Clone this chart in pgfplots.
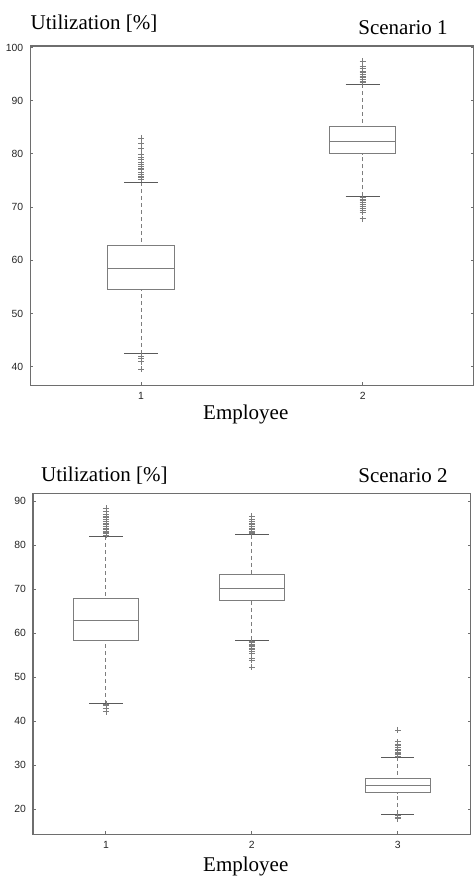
\documentclass[border=0pt]{standalone}
\usepackage{pgfplots}
\pgfplotsset{compat=1.18}
\usepgfplotslibrary{statistics}
\usepackage{fontspec}
\setmainfont{Liberation Serif}
\newfontfamily\sansf{Liberation Sans}
\definecolor{axgray}{RGB}{110,110,110}
\definecolor{boxgray}{RGB}{125,125,125}
\definecolor{capgray}{RGB}{90,90,90}
\pgfplotsset{
  myboxstyle/.style={
    scale only axis,
    axis line style={axgray,line width=0.6pt},
    tick style={axgray,line width=0.5pt},
    major tick length=1.4pt,
    tick align=inside,
    ytick pos=both,
    xtick pos=bottom,
    tick label style={font=\sansf\fontsize{5.2}{6}\selectfont,text=black!85},
    /pgf/number format/assume math mode=true,
    xtick={1,2,3},
    boxplot/draw direction=y,
    boxplot/every box/.style={draw=boxgray,line width=0.5pt},
    boxplot/every median/.style={draw=boxgray,line width=0.5pt},
    boxplot/draw/lower whisker/.code={%
      \draw[boxgray,line width=0.5pt,dash pattern=on 2pt off 1.5pt]
        (boxplot box cs:\pgfplotsboxplotvalue{lower whisker},0.5) --
        (boxplot box cs:\pgfplotsboxplotvalue{lower quartile},0.5);
      \draw[capgray,line width=0.5pt]
        (boxplot whisker cs:\pgfplotsboxplotvalue{lower whisker},0) --
        (boxplot whisker cs:\pgfplotsboxplotvalue{lower whisker},1);
    },
    boxplot/draw/upper whisker/.code={%
      \draw[boxgray,line width=0.5pt,dash pattern=on 2pt off 1.5pt]
        (boxplot box cs:\pgfplotsboxplotvalue{upper whisker},0.5) --
        (boxplot box cs:\pgfplotsboxplotvalue{upper quartile},0.5);
      \draw[capgray,line width=0.5pt]
        (boxplot whisker cs:\pgfplotsboxplotvalue{upper whisker},0) --
        (boxplot whisker cs:\pgfplotsboxplotvalue{upper whisker},1);
    },
  },
  outl/.style={only marks,mark=+,mark size=1.5pt,
    mark options={boxgray,line width=0.4pt},draw=boxgray},
}
\begin{document}
\begin{tikzpicture}
\path[use as bounding box] (0pt,0pt) rectangle (237pt,438pt);
% ---------- Scenario 1 ----------
\begin{axis}[myboxstyle,
  at={(15.15pt,245.35pt)},anchor=south west,
  width=221.6pt,height=169.65pt,
  xmin=0.5,xmax=2.5,ymin=36.5,ymax=100.3,
  ytick={40,50,60,70,80,90,100},
  boxplot/box extend=0.3,
  boxplot/whisker extend=0.154,
]
\addplot+[outl,boxplot prepared={draw position=1,
  lower whisker=42.4,lower quartile=54.6,median=58.55,
  upper quartile=62.7,upper whisker=74.7}]
  table[row sep=\\,y index=0]{
  75.2\\75.5\\75.8\\76.1\\76.5\\77.0\\77.3\\77.6\\78.0\\78.5\\79.0\\79.3\\80.0\\81.0\\82.0\\83.0\\
  42.0\\41.6\\40.9\\39.5\\};
\addplot+[outl,boxplot prepared={draw position=2,
  lower whisker=72.0,lower quartile=80.0,median=82.4,
  upper quartile=85.2,upper whisker=93.1}]
  table[row sep=\\,y index=0]{
  93.4\\93.7\\94.0\\94.3\\94.6\\95.0\\95.3\\95.6\\96.0\\96.5\\97.4\\
  71.8\\71.5\\71.2\\70.9\\70.6\\70.2\\69.8\\69.4\\69.0\\67.8\\};
\end{axis}
\node[anchor=base west,inner sep=0pt,font=\fontsize{10.5}{12}\selectfont] at (15.15pt,423pt) {Utilization [\%]};
\node[anchor=base west,inner sep=0pt,font=\fontsize{10.5}{12}\selectfont] at (179pt,420.9pt) {Scenario 1};
\node[anchor=base,inner sep=0pt,font=\fontsize{10.5}{12}\selectfont] at (122.9pt,228pt) {Employee};
% ---------- Scenario 2 ----------
\begin{axis}[myboxstyle,
  at={(16.5pt,20.85pt)},anchor=south west,
  width=218.85pt,height=170.5pt,
  xmin=0.5,xmax=3.5,ymin=14.3,ymax=91.75,
  ytick={20,30,40,50,60,70,80,90},
  boxplot/box extend=0.447,
  boxplot/whisker extend=0.229,
]
\addplot+[outl,boxplot prepared={draw position=1,
  lower whisker=44.0,lower quartile=58.3,median=62.95,
  upper quartile=67.95,upper whisker=82.05}]
  table[row sep=\\,y index=0]{
  82.3\\82.6\\82.9\\83.2\\83.5\\83.8\\84.2\\84.6\\85.0\\85.4\\85.8\\86.2\\86.6\\87.0\\87.6\\88.4\\
  43.8\\43.5\\42.8\\42.1\\};
\addplot+[outl,boxplot prepared={draw position=2,
  lower whisker=58.4,lower quartile=67.3,median=70.07,
  upper quartile=73.4,upper whisker=82.3}]
  table[row sep=\\,y index=0]{
  82.6\\82.9\\83.2\\83.5\\83.8\\84.2\\84.6\\85.0\\85.4\\85.8\\86.5\\
  58.1\\57.8\\57.5\\57.2\\56.9\\56.6\\56.2\\55.8\\55.4\\54.2\\53.8\\52.3\\};
\addplot+[outl,boxplot prepared={draw position=3,
  lower whisker=18.9,lower quartile=23.7,median=25.4,
  upper quartile=26.95,upper whisker=31.8}]
  table[row sep=\\,y index=0]{
  32.1\\32.4\\32.7\\33.0\\33.3\\33.6\\34.0\\34.4\\34.8\\35.3\\38.0\\
  18.5\\18.2\\17.8\\};
\end{axis}
\node[anchor=base west,inner sep=0pt,font=\fontsize{10.5}{12}\selectfont] at (20.35pt,197.15pt) {Utilization [\%]};
\node[anchor=base west,inner sep=0pt,font=\fontsize{10.5}{12}\selectfont] at (179pt,196.7pt) {Scenario 2};
\node[anchor=base,inner sep=0pt,font=\fontsize{10.5}{12}\selectfont] at (122.9pt,2.15pt) {Employee};
\end{tikzpicture}
\end{document}
